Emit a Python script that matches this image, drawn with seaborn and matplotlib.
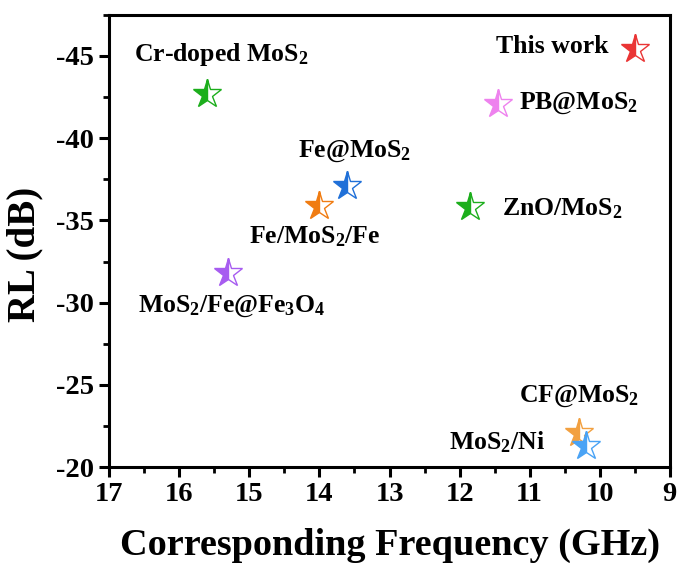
import matplotlib
matplotlib.use("Agg")
from matplotlib import pyplot as plt
from matplotlib.ticker import MultipleLocator
import seaborn as sns

# Data
names = ["This work", "PB@MoS2", "Cr-doped MoS2", "ZnO/MoS2", "Fe@MoS2",
         "Fe/MoS2/Fe", "MoS2/Fe@Fe3O4", "CF@MoS2", "MoS2/Ni"]
freq = [9.5, 11.45, 15.6, 11.85, 13.6, 14.0, 15.3, 10.3, 10.2]
rl = [-45.4, -42.1, -42.7, -35.8, -37.1, -35.9, -31.8, -22.1, -21.3]
colors = ["#ea3535", "#ee82ee", "#1cae1c", "#1cae1c", "#2070d8",
          "#f07c12", "#a75cf0", "#f2a040", "#4aa3f5"]

# annotation text and where it sits (data coords + alignment)
labels = ["This work", "PB@MoS$_2$", "Cr-doped MoS$_2$", "ZnO/MoS$_2$", "Fe@MoS$_2$",
          "Fe/MoS$_2$/Fe", "MoS$_2$/Fe@Fe$_3$O$_4$", "CF@MoS$_2$", "MoS$_2$/Ni"]
label_x = [9.88, 11.15, 15.4, 11.4, 13.5, 14.07, 15.25, 10.3, 10.78]
label_y = [-45.6, -42.1, -45.1, -35.7, -39.2, -34.0, -29.8, -24.3, -21.5]
label_ha = ["right", "left", "center", "left", "center", "center", "center", "center", "right"]

sns.set_theme(style="ticks")
plt.rcParams["font.family"] = ["Liberation Serif", "DejaVu Serif"]
plt.rcParams["font.weight"] = "bold"
plt.rcParams["mathtext.fontset"] = "custom"
plt.rcParams["mathtext.rm"] = "Liberation Serif:bold"
plt.rcParams["mathtext.it"] = "Liberation Serif:bold"
plt.rcParams["mathtext.bf"] = "Liberation Serif:bold"
plt.rcParams["mathtext.default"] = "rm"
plt.rcParams["axes.unicode_minus"] = False

fig = plt.figure(figsize=(6.78, 5.67), dpi=100)
ax = fig.add_axes([0.161, 0.176, 0.827, 0.798])

for x, y, c in zip(freq, rl, colors):
    sns.lineplot(x=[x], y=[y], ax=ax, color=c, linestyle="", marker="*",
                 markersize=21, fillstyle="left", markerfacecoloralt="white",
                 markeredgecolor=c, markeredgewidth=1.0)

for t, x, y, ha in zip(labels, label_x, label_y, label_ha):
    ax.text(x, y, t, ha=ha, va="center", fontsize=18.5, fontweight="bold", color="black")

ax.set_xlim(17, 9)
ax.set_ylim(-20, -47.5)
ax.xaxis.set_major_locator(MultipleLocator(1))
ax.xaxis.set_minor_locator(MultipleLocator(0.5))
ax.yaxis.set_major_locator(MultipleLocator(5))
ax.yaxis.set_minor_locator(MultipleLocator(2.5))

for s in ax.spines.values():
    s.set_linewidth(2.2)
    s.set_color("black")
ax.tick_params(which="major", direction="out", length=7, width=2.2, labelsize=20.5,
               colors="black", pad=4)
ax.tick_params(which="minor", direction="out", length=4, width=2.0, colors="black")
for lab in ax.get_xticklabels() + ax.get_yticklabels():
    lab.set_fontweight("bold")

ax.set_xlabel("Corresponding Frequency (GHz)", fontsize=27.5, fontweight="bold", color="black")
ax.set_ylabel("RL (dB)", fontsize=28, fontweight="bold", color="black")
ax.xaxis.set_label_coords(0.5, -0.135)
ax.yaxis.set_label_coords(-0.118, 0.47)

fig.savefig("out.png", dpi=100)
